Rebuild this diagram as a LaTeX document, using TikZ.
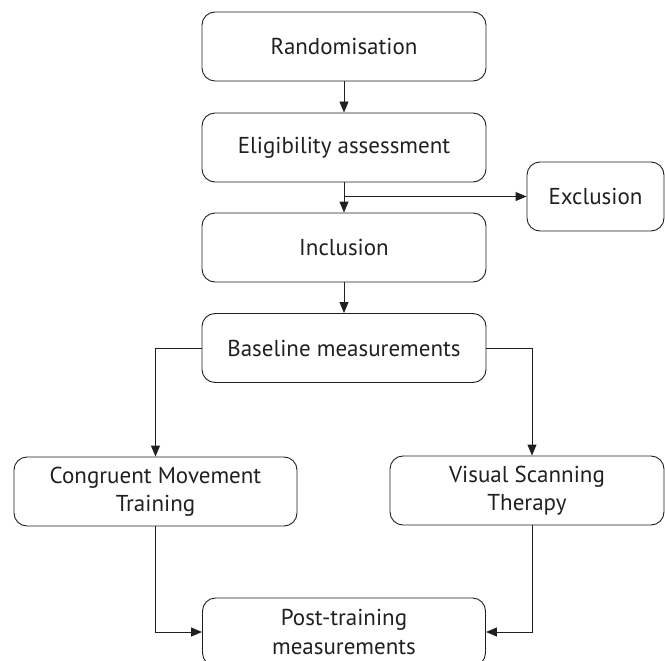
\documentclass[tikz,border=0pt]{standalone}
\usepackage{fontspec}
\setmainfont{PT Sans}
\usetikzlibrary{arrows.meta}
\definecolor{ink}{HTML}{231F20}
\begin{document}
\begin{tikzpicture}[x=1pt,y=-1pt,
  box/.style={draw=ink,line width=0.9pt,rounded corners=13pt,minimum height=69pt,
    align=center,text=ink,font=\fontsize{23}{28.5}\selectfont,inner sep=0pt},
  arr/.style={draw=ink,line width=0.9pt,-{Triangle[length=11pt,width=9pt]}}]
\useasboundingbox (0,0) rectangle (665,661);
\node[box,minimum width=284pt] (rand) at (344,46.5) {Randomisation};
\node[box,minimum width=284pt] (elig) at (344,147.5) {Eligibility assessment};
\node[box,minimum width=137pt] (excl) at (595.5,196.5) {Exclusion};
\node[box,minimum width=284pt] (incl) at (344,247.5) {Inclusion};
\node[box,minimum width=284pt] (base) at (344,348) {Baseline measurements};
\node[box,minimum width=283pt] (cong) at (155.5,491.5) {Congruent Movement\\Training};
\node[box,minimum width=274pt] (vis) at (527,490.5) {Visual Scanning\\Therapy};
\node[box,minimum width=283pt,minimum height=68pt] (post) at (344,632) {Post-training\\measurements};
\coordinate (j) at (elig.south |- excl.west);
\coordinate (vtop) at ([xshift=5pt]vis.north);
\coordinate (vbot) at ([xshift=5pt]vis.south);
\draw[arr] (rand) -- (elig);
\draw[arr] (elig) -- (incl);
\draw[arr] (j) -- (excl.west);
\draw[arr] (incl) -- (base);
\draw[arr] (base.west) -| (cong.north);
\draw[arr] (base.east) -| (vtop);
\draw[arr] (cong.south) |- (post.west);
\draw[arr] (vbot) |- (post.east);
\end{tikzpicture}
\end{document}
